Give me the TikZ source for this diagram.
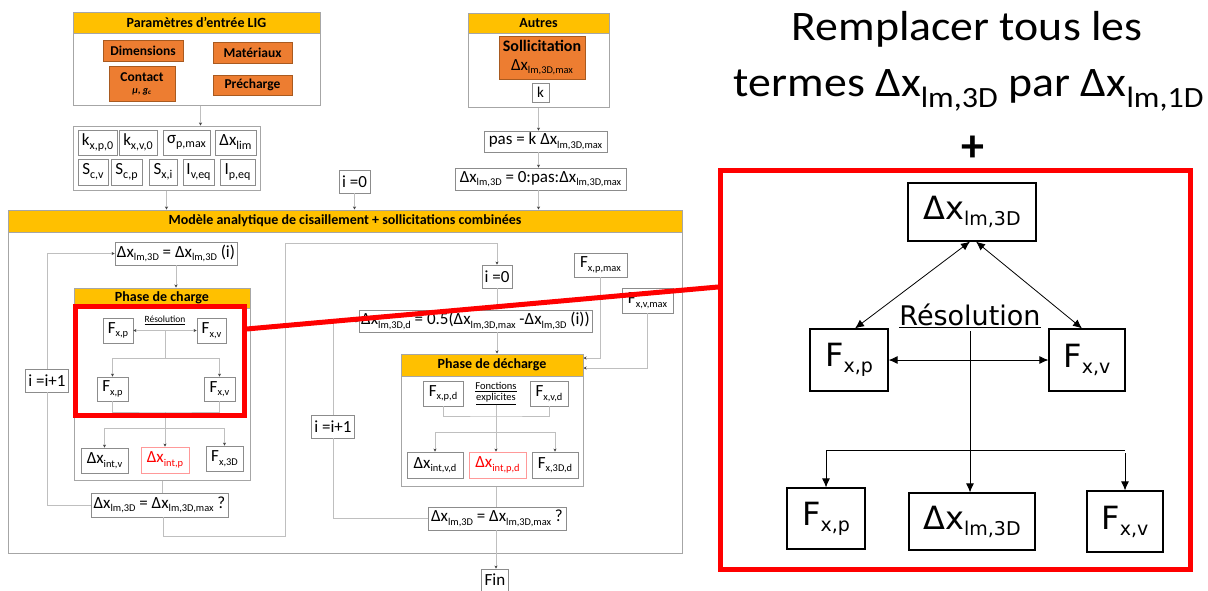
\documentclass[tikz,border=0pt]{standalone}
\usepackage{fontspec}
\setmainfont{Carlito}
\newfontfamily\dvs{DejaVu Sans}
\usetikzlibrary{arrows.meta,calc}
\definecolor{hdrorange}{HTML}{FFC000}
\definecolor{orng}{HTML}{ED7D31}
\definecolor{obrd}{HTML}{A85A20}
\definecolor{bgray}{HTML}{8C8C8C}
\definecolor{kgray}{HTML}{A6A6A6}
\definecolor{cgray}{HTML}{BFBFBF}
\definecolor{lred}{HTML}{FF9999}
\newcommand\lsub[1]{\raisebox{-3.5pt}{\fontsize{10.4}{11}\selectfont #1}}
\newcommand\psub[1]{\raisebox{-4pt}{\fontsize{12}{12}\selectfont #1}}
\newcommand\bsub[1]{\raisebox{-6pt}{\fontsize{19}{19}\selectfont #1}}
\tikzset{
  bx/.style={draw=bgray, line width=0.9pt, fill=white, inner sep=0pt, font=\fontsize{17}{19}\selectfont},
  redbx/.style={bx, draw=lred, text=red},
  cont/.style={draw=kgray, line width=1pt, fill=white, inner sep=0pt},
  hdr/.style={draw=kgray, line width=1pt, fill=hdrorange, inner sep=0pt, font=\bfseries\fontsize{14}{16}\selectfont},
  ob/.style={draw=obrd, line width=0.8pt, fill=orng, inner sep=0pt, font=\bfseries\fontsize{13.5}{15}\selectfont},
  conn/.style={draw=cgray, line width=0.9pt},
  arr/.style={conn, -{Stealth[length=3pt,width=3pt,color=black!75]}},
  rbx/.style={draw=black, line width=1.2pt, fill=white, inner sep=0pt, font=\dvs\fontsize{32}{34}\selectfont},
  rarr/.style={draw=black, line width=0.8pt, -{Latex[length=9pt,width=8pt]}},
  rdarr/.style={draw=black, line width=0.8pt, {Latex[length=9pt,width=8pt]}-{Latex[length=9pt,width=8pt]}},
  zoomrect/.style={draw=red, line width=5pt, inner sep=0pt},
  ttl/.style={font=\fontsize{42}{46}\selectfont, anchor=base, inner sep=0pt},
}
\begin{document}
\begin{tikzpicture}[x=1pt,y=-1pt]
\useasboundingbox (0,0) rectangle (1208,590);
% ---------- LIG input box
\node[cont, minimum width=247, minimum height=72] (ligbody) at (196.5,69) {};
\node[hdr, minimum width=247, minimum height=21] (lighdr) at (196.5,22.5) {Paramètres d’entrée LIG};
\node[ob, minimum width=80, minimum height=21] (dim) at (143,50.5) {Dimensions};
\node[ob, minimum width=79, minimum height=21] (mat) at (252.5,52.5) {Matériaux};
\node[ob, minimum width=66, minimum height=35, align=center] (contact) at (142,83.5) {Contact\\[-3pt]{\fontsize{10}{11}\selectfont\itshape μ, g\textsubscript{c}}};
\node[ob, minimum width=79, minimum height=20] (pre) at (252.5,85) {Précharge};
% ---------- Autres box
\node[cont, minimum width=141, minimum height=74] (autbody) at (538.5,70) {};
\node[hdr, minimum width=141, minimum height=20] (authdr) at (538.5,23) {Autres};
\node[ob, minimum width=86, minimum height=43, align=center, font=\bfseries\fontsize{16}{18}\selectfont] (sol) at (542,57.5) {Sollicitation\\[1pt]{\mdseries\fontsize{17}{19}\selectfont Δx\lsub{lm,3D,max}}};
\node[bx, minimum width=17, minimum height=19, font=\fontsize{15}{17}\selectfont] (k) at (540.5,92.5) {k};
\node[bx, minimum width=123, minimum height=21] (pas) at (545.5,141.5) {pas = k Δx\lsub{lm,3D,max}};
\node[bx, minimum width=171, minimum height=22] (rng) at (540.5,179) {Δx\lsub{lm,3D} = 0:pas:Δx\lsub{lm,3D,max}};
% ---------- parameter box
\node[cont, minimum width=187, minimum height=64] (par) at (166.5,158) {};
\node[bx, minimum width=39, minimum height=25] (kxp) at (97.5,142.5) {k\psub{x,p,0}};
\node[bx, minimum width=38, minimum height=25] (kxv) at (138,142.5) {k\psub{x,v,0}};
\node[bx, minimum width=47, minimum height=25] (sig) at (186.5,142.5) {σ\psub{p,max}};
\node[bx, minimum width=41, minimum height=25] (dlim) at (235.5,142.5) {Δx\psub{lim}};
\node[bx, minimum width=30, minimum height=26] (scv) at (93,172) {S\psub{c,v}};
\node[bx, minimum width=31, minimum height=26] (scp) at (126.5,172) {S\psub{c,p}};
\node[bx, minimum width=28, minimum height=26] (sxi) at (163,172) {S\psub{x,i}};
\node[bx, minimum width=31, minimum height=26] (iveq) at (198.5,172) {I\psub{v,eq}};
\node[bx, minimum width=35, minimum height=26] (ipeq) at (237.5,172) {I\psub{p,eq}};
\node[bx, minimum width=31, minimum height=23] (i0a) at (354.5,181.5) {i =0};
% ---------- main model box
\node[cont, minimum width=674, minimum height=321] (modbody) at (345,392.5) {};
\node[hdr, minimum width=674, minimum height=22] (modhdr) at (345,221) {Modèle analytique de cisaillement + sollicitations combinées};
% top connectors
\draw[arr] ([xshift=4]ligbody.south) -- ([xshift=4]ligbody.south |- par.north);
\draw[arr] (par.south) -- (par.south |- modhdr.north);
\draw[arr] (i0a.south) -- (i0a.south |- modhdr.north);
\draw[arr] (autbody.south) -- (autbody.south |- pas.north);
\draw[arr] (autbody.south |- pas.south) -- (autbody.south |- rng.north);
\draw[arr] (autbody.south |- rng.south) -- (autbody.south |- modhdr.north);
% ---------- charge column
\node[bx, minimum width=122, minimum height=23] (dxi) at (176,253.5) {Δx\lsub{lm,3D} = Δx\lsub{lm,3D} (i)};
\node[cont, minimum width=176, minimum height=172] (pchbody) at (162,394) {};
\node[hdr, minimum width=176, minimum height=20] (pchhdr) at (162,298) {Phase de charge};
\node[bx, minimum width=30, minimum height=25] (fxp1) at (118,330.5) {F\lsub{x,p}};
\node[bx, minimum width=29, minimum height=25] (fxv1) at (211.5,330.5) {F\lsub{x,v}};
\node[font=\fontsize{9.5}{11}\selectfont, inner sep=0pt] (res1) at (165,320.5) {\underline{Résolution}};
\node[bx, minimum width=31, minimum height=24] (fxp2) at (112.5,389) {F\lsub{x,p}};
\node[bx, minimum width=31, minimum height=24] (fxv2) at (219.5,389) {F\lsub{x,v}};
\node[bx, minimum width=47, minimum height=25] (dxintv) at (104.5,460.5) {Δx\lsub{int,v}};
\node[redbx, minimum width=48, minimum height=26] (dxintp) at (165,460) {Δx\lsub{int,p}};
\node[bx, minimum width=37, minimum height=25] (fx3d) at (224.5,458.5) {F\lsub{x,3D}};
\node[bx, minimum width=137, minimum height=24] (cond1) at (159.5,505) {Δx\lsub{lm,3D} = Δx\lsub{lm,3D,max} ?};
\node[bx, minimum width=43, minimum height=23] (ip1) at (47,380.5) {i =i+1};
\coordinate (rc) at (165,330.5);
\coordinate (j1) at (165,358);
\coordinate (j2) at (165,412);
\coordinate (j3) at (165,428);
\draw[conn, {Stealth[length=3pt,width=3pt,color=black!75]}-{Stealth[length=3pt,width=3pt,color=black!75]}] (fxp1.east) -- (fxv1.west);
\draw[conn] (rc) -- (j1);
\draw[arr] (j1) -| (fxp2.north);
\draw[arr] (j1) -| (fxv2.north);
\draw[conn] (fxp2.south) |- (j2) -| (fxv2.south);
\draw[conn] (j2) -- (j3);
\draw[arr] (j3) -| (dxintv.north);
\draw[arr] (j3) -| (fx3d.north);
\draw[arr] (j3) -- (dxintp.north);
\draw[arr] (dxi.south) -- (dxi.south |- pchhdr.north);
\draw[conn] (pchbody.south) -- (pchbody.south |- cond1.north);
\draw[conn] (cond1.west) -| (ip1.south);
\draw[arr] (ip1.north) |- (dxi.west);
% ---------- decharge column
\node[bx, minimum width=30, minimum height=23] (i0b) at (497,276.5) {i =0};
\node[bx, minimum width=233, minimum height=22] (dxd) at (475.5,321) {Δx\lsub{lm,3D,d} = 0.5(Δx\lsub{lm,3D,max} -Δx\lsub{lm,3D} (i))};
\node[bx, minimum width=53, minimum height=24] (fxpmax) at (600.5,265) {F\lsub{x,p,max}};
\node[bx, minimum width=51, minimum height=25] (fxvmax) at (647.5,300.5) {F\lsub{x,v,max}};
\node[cont, minimum width=182, minimum height=110] (pdcbody) at (492,431) {};
\node[hdr, minimum width=182, minimum height=22] (pdchdr) at (492,365) {Phase de décharge};
\node[bx, minimum width=40, minimum height=25] (fxpd) at (443,393.5) {F\lsub{x,p,d}};
\node[bx, minimum width=38, minimum height=25] (fxvd) at (549,393.5) {F\lsub{x,v,d}};
\node[font=\fontsize{10.5}{12}\selectfont, align=center, inner sep=0pt] (fe) at (496,393.5) {\underline{Fonctions}\\[-1pt]\underline{explicites}};
\node[bx, minimum width=56, minimum height=26] (dxintvd) at (435,465) {Δx\lsub{int,v,d}};
\node[redbx, minimum width=57, minimum height=26] (dxintpd) at (497.5,465) {Δx\lsub{int,p,d}};
\node[bx, minimum width=46, minimum height=26] (f3dd) at (555,465) {F\lsub{x,3D,d}};
\node[bx, minimum width=138, minimum height=23] (cond2) at (497,518.5) {Δx\lsub{lm,3D} = Δx\lsub{lm,3D,max} ?};
\node[bx, minimum width=43, minimum height=23] (ip1b) at (333,426.5) {i =i+1};
\node[bx, minimum width=27, minimum height=22] (fin) at (495,580) {Fin};
\coordinate (k1) at (496,416);
\coordinate (k2) at (496,432);
\coordinate (L2) at (285,536);
\coordinate (L3) at (285,243);
\draw[arr] ([xshift=3.5]cond1.south) |- (L2) -- (L3) -| (i0b.north);
\draw[arr] (i0b.south) -- (i0b.south |- dxd.north);
\draw[arr] (i0b.south |- dxd.south) -- (i0b.south |- pdchdr.north);
\draw[arr] (fxpmax.south) |- ([yshift=7]pdchdr.east);
\draw[arr] (fxvmax.south) |- ([yshift=-3]pdchdr.east);
\draw[conn] (fxpd.south) |- (k1) -| (fxvd.south);
\draw[arr] (fe.south) -- (fe.south |- dxintpd.north);
\draw[arr] (k2) -| (dxintvd.north);
\draw[arr] (k2) -| (f3dd.north);
\draw[conn] (fe.south |- pdcbody.south) -- (fe.south |- cond2.north);
\draw[conn] (cond2.west) -| (ip1b.south);
\draw[arr] (ip1b.north) |- (dxd.west);
\draw[arr] (fe.south |- cond2.south) -- (fe.south |- fin.north);
% ---------- right panel
\node[ttl] (t1) at (967,40) {\scalebox{1.09}[1]{Remplacer tous les}};
\node[ttl] (t2) at (969,96) {\scalebox{1.09}[1]{termes Δx\textsubscript{lm,3D} par Δx\textsubscript{lm,1D}}};
\node[font=\bfseries\fontsize{46}{48}\selectfont, inner sep=0pt] (plus) at (973,149) {+};
\node[zoomrect, minimum width=470, minimum height=399] (zoomR) at (955.5,370) {};
\node[rbx, minimum width=128, minimum height=58] (R0) at (972,212) {Δx\bsub{lm,3D}};
\node[rbx, minimum width=78, minimum height=62] (R1) at (849,360) {F\bsub{x,p}};
\node[rbx, minimum width=76, minimum height=62] (R2) at (1087,360) {F\bsub{x,v}};
\node[font=\dvs\fontsize{27}{30}\selectfont, inner sep=1pt] (rres) at (970,316) {\underline{Résolution}};
\node[rbx, minimum width=78, minimum height=61] (R3) at (826,518.5) {F\bsub{x,p}};
\node[rbx, minimum width=126, minimum height=57] (R4) at (972,521.5) {Δx\bsub{lm,3D}};
\node[rbx, minimum width=76, minimum height=61] (R5) at (1125,521.5) {F\bsub{x,v}};
\coordinate (rh1) at (826,450);
\coordinate (rh2) at (1125,450);
\draw[rdarr] ([xshift=-2]R0.south) -- ([xshift=6]R1.north);
\draw[rdarr] ([xshift=4]R0.south) -- ([xshift=-5]R2.north);
\draw[rdarr] (R1.east) -- (R2.west);
\draw[rarr] ([yshift=-2]rres.south) -- (rres.south |- R4.north);
\draw[draw=black, line width=0.8pt] (rh1) -- (rh2);
\draw[rarr] (rh1) -- (rh1 |- R3.north);
\draw[rarr] ([yshift=-3]rh2) -- (rh2 |- R5.north);
% ---------- zoom highlight
\node[zoomrect, minimum width=168.5, minimum height=109] (zoomL) at (159.75,361) {};
\draw[red, line width=5pt] ([yshift=32]zoomL.east) -- ([yshift=83]zoomR.west);
\end{tikzpicture}
\end{document}
